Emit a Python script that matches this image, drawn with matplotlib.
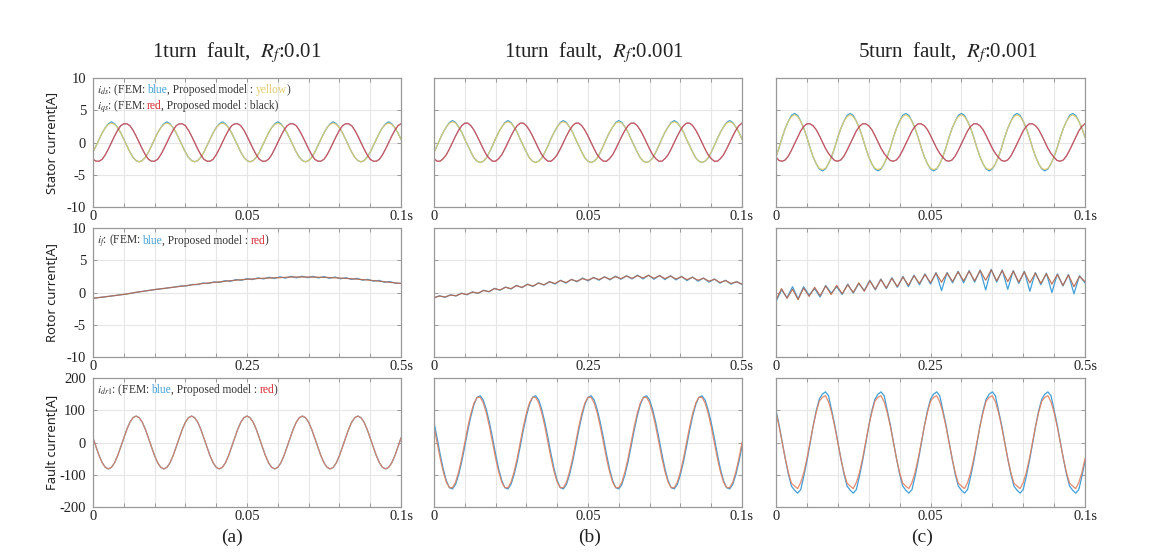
import numpy as np
import matplotlib.pyplot as plt
from matplotlib.offsetbox import TextArea, HPacker, VPacker, AnchoredOffsetbox

plt.rcParams['mathtext.fontset'] = 'stix'

# ---- data ----
t_fast = np.linspace(0, 0.1, 101)   # stator / fault current time base
t_rot = np.linspace(0, 0.5, 57)     # rotor current time base

titles = ["1turn  fault,  $R_f$:0.01", "1turn  fault,  $R_f$:0.001", "5turn  fault,  $R_f$:0.001"]
panel_tags = ["(a)", "(b)", "(c)"]

# stator i_ds, i_qs
ids_fem_a = [
    -1.5, -0.5, 0.5, 1.5, 2.3, 2.9, 3.2, 2.9, 2.3, 1.5, 0.5, -0.5, -1.5, -2.3, -2.8, -3.0, -2.8, -2.3,
    -1.5, -0.5, 0.5, 1.5, 2.3, 2.9, 3.2, 2.9, 2.3, 1.5, 0.5, -0.5, -1.5, -2.3, -2.8, -3.0, -2.8, -2.3,
    -1.5, -0.5, 0.5, 1.5, 2.3, 2.9, 3.2, 2.9, 2.3, 1.5, 0.5, -0.5, -1.5, -2.3, -2.8, -3.0, -2.8, -2.3,
    -1.5, -0.5, 0.5, 1.5, 2.3, 2.9, 3.2, 2.9, 2.3, 1.5, 0.5, -0.5, -1.5, -2.3, -2.8, -3.0, -2.8, -2.3,
    -1.5, -0.5, 0.5, 1.5, 2.3, 2.9, 3.2, 2.9, 2.3, 1.5, 0.5, -0.5, -1.5, -2.3, -2.8, -3.0, -2.8, -2.3,
    -1.5, -0.5, 0.5, 1.5, 2.3, 2.9, 3.2, 2.9, 2.3, 1.5, 0.5,
]
ids_mod_a = [
    -1.5, -0.5, 0.5, 1.5, 2.3, 2.8, 3.0, 2.8, 2.3, 1.5, 0.5, -0.5, -1.5, -2.3, -2.8, -3.0, -2.8, -2.3,
    -1.5, -0.5, 0.5, 1.5, 2.3, 2.8, 3.0, 2.8, 2.3, 1.5, 0.5, -0.5, -1.5, -2.3, -2.8, -3.0, -2.8, -2.3,
    -1.5, -0.5, 0.5, 1.5, 2.3, 2.8, 3.0, 2.8, 2.3, 1.5, 0.5, -0.5, -1.5, -2.3, -2.8, -3.0, -2.8, -2.3,
    -1.5, -0.5, 0.5, 1.5, 2.3, 2.8, 3.0, 2.8, 2.3, 1.5, 0.5, -0.5, -1.5, -2.3, -2.8, -3.0, -2.8, -2.3,
    -1.5, -0.5, 0.5, 1.5, 2.3, 2.8, 3.0, 2.8, 2.3, 1.5, 0.5, -0.5, -1.5, -2.3, -2.8, -3.0, -2.8, -2.3,
    -1.5, -0.5, 0.5, 1.5, 2.3, 2.8, 3.0, 2.8, 2.3, 1.5, 0.5,
]
iqs_a = [
    -2.6, -2.9, -2.9, -2.6, -1.9, -1.0, 0.0, 1.0, 1.9, 2.6, 2.9, 2.9, 2.6, 1.9, 1.0, 0.0, -1.0, -1.9,
    -2.6, -2.9, -2.9, -2.6, -1.9, -1.0, 0.0, 1.0, 1.9, 2.6, 2.9, 2.9, 2.6, 1.9, 1.0, 0.0, -1.0, -1.9,
    -2.6, -2.9, -2.9, -2.6, -1.9, -1.0, 0.0, 1.0, 1.9, 2.6, 2.9, 2.9, 2.6, 1.9, 1.0, 0.0, -1.0, -1.9,
    -2.6, -2.9, -2.9, -2.6, -1.9, -1.0, 0.0, 1.0, 1.9, 2.6, 2.9, 2.9, 2.6, 1.9, 1.0, 0.0, -1.0, -1.9,
    -2.6, -2.9, -2.9, -2.6, -1.9, -1.0, 0.0, 1.0, 1.9, 2.6, 2.9, 2.9, 2.6, 1.9, 1.0, 0.0, -1.0, -1.9,
    -2.6, -2.9, -2.9, -2.6, -1.9, -1.0, 0.0, 1.0, 1.9, 2.6, 2.9,
]
ids_fem_b = [
    -1.5, -0.5, 0.6, 1.6, 2.4, 3.1, 3.4, 3.1, 2.4, 1.6, 0.5, -0.5, -1.5, -2.4, -2.9, -3.1, -2.9, -2.4,
    -1.5, -0.5, 0.6, 1.6, 2.4, 3.1, 3.4, 3.1, 2.4, 1.6, 0.5, -0.5, -1.5, -2.4, -2.9, -3.1, -2.9, -2.4,
    -1.5, -0.5, 0.6, 1.6, 2.4, 3.1, 3.4, 3.1, 2.4, 1.6, 0.5, -0.5, -1.5, -2.4, -2.9, -3.1, -2.9, -2.4,
    -1.5, -0.5, 0.6, 1.6, 2.4, 3.1, 3.4, 3.1, 2.4, 1.6, 0.5, -0.5, -1.5, -2.4, -2.9, -3.1, -2.9, -2.4,
    -1.5, -0.5, 0.6, 1.6, 2.4, 3.1, 3.4, 3.1, 2.4, 1.6, 0.5, -0.5, -1.5, -2.4, -2.9, -3.1, -2.9, -2.4,
    -1.5, -0.5, 0.6, 1.6, 2.4, 3.1, 3.4, 3.1, 2.4, 1.6, 0.5,
]
ids_mod_b = [
    -1.5, -0.5, 0.6, 1.6, 2.4, 3.0, 3.2, 3.0, 2.4, 1.6, 0.5, -0.5, -1.5, -2.4, -2.9, -3.1, -2.9, -2.4,
    -1.5, -0.5, 0.6, 1.6, 2.4, 3.0, 3.2, 3.0, 2.4, 1.6, 0.5, -0.5, -1.5, -2.4, -2.9, -3.1, -2.9, -2.4,
    -1.5, -0.5, 0.6, 1.6, 2.4, 3.0, 3.2, 3.0, 2.4, 1.6, 0.5, -0.5, -1.5, -2.4, -2.9, -3.1, -2.9, -2.4,
    -1.5, -0.5, 0.6, 1.6, 2.4, 3.0, 3.2, 3.0, 2.4, 1.6, 0.5, -0.5, -1.5, -2.4, -2.9, -3.1, -2.9, -2.4,
    -1.5, -0.5, 0.6, 1.6, 2.4, 3.0, 3.2, 3.0, 2.4, 1.6, 0.5, -0.5, -1.5, -2.4, -2.9, -3.1, -2.9, -2.4,
    -1.5, -0.5, 0.6, 1.6, 2.4, 3.0, 3.2, 3.0, 2.4, 1.6, 0.5,
]
iqs_b = [
    -2.5, -2.9, -2.9, -2.5, -1.9, -1.0, 0.0, 1.0, 1.9, 2.6, 3.0, 3.0, 2.6, 1.9, 1.0, 0.0, -1.0, -1.9,
    -2.5, -2.9, -2.9, -2.5, -1.9, -1.0, 0.0, 1.0, 1.9, 2.6, 3.0, 3.0, 2.6, 1.9, 1.0, 0.0, -1.0, -1.9,
    -2.5, -2.9, -2.9, -2.5, -1.9, -1.0, 0.0, 1.0, 1.9, 2.6, 3.0, 3.0, 2.6, 1.9, 1.0, 0.0, -1.0, -1.9,
    -2.5, -2.9, -2.9, -2.5, -1.9, -1.0, 0.0, 1.0, 1.9, 2.6, 3.0, 3.0, 2.6, 1.9, 1.0, 0.0, -1.0, -1.9,
    -2.5, -2.9, -2.9, -2.5, -1.9, -1.0, 0.0, 1.0, 1.9, 2.6, 3.0, 3.0, 2.6, 1.9, 1.0, 0.0, -1.0, -1.9,
    -2.5, -2.9, -2.9, -2.5, -1.9, -1.0, 0.0, 1.0, 1.9, 2.6, 3.0,
]
ids_fem_c = [
    -2.2, -0.8, 0.8, 2.2, 3.3, 4.2, 4.5, 4.2, 3.3, 2.2, 0.8, -0.8, -2.2, -3.3, -4.1, -4.4, -4.1, -3.3,
    -2.2, -0.8, 0.8, 2.2, 3.3, 4.2, 4.5, 4.2, 3.3, 2.2, 0.8, -0.8, -2.2, -3.3, -4.1, -4.4, -4.1, -3.3,
    -2.2, -0.8, 0.8, 2.2, 3.3, 4.2, 4.5, 4.2, 3.3, 2.2, 0.8, -0.8, -2.2, -3.3, -4.1, -4.4, -4.1, -3.3,
    -2.2, -0.8, 0.8, 2.2, 3.3, 4.2, 4.5, 4.2, 3.3, 2.2, 0.8, -0.8, -2.2, -3.3, -4.1, -4.4, -4.1, -3.3,
    -2.2, -0.8, 0.8, 2.2, 3.3, 4.2, 4.5, 4.2, 3.3, 2.2, 0.8, -0.8, -2.2, -3.3, -4.1, -4.4, -4.1, -3.3,
    -2.2, -0.8, 0.8, 2.2, 3.3, 4.2, 4.5, 4.2, 3.3, 2.2, 0.8,
]
ids_mod_c = [
    -2.2, -0.8, 0.8, 2.2, 3.3, 4.0, 4.3, 4.0, 3.3, 2.2, 0.8, -0.8, -2.2, -3.3, -4.0, -4.2, -4.0, -3.3,
    -2.2, -0.8, 0.8, 2.2, 3.3, 4.0, 4.3, 4.0, 3.3, 2.2, 0.8, -0.8, -2.2, -3.3, -4.0, -4.2, -4.0, -3.3,
    -2.2, -0.8, 0.8, 2.2, 3.3, 4.0, 4.3, 4.0, 3.3, 2.2, 0.8, -0.8, -2.2, -3.3, -4.0, -4.2, -4.0, -3.3,
    -2.2, -0.8, 0.8, 2.2, 3.3, 4.0, 4.3, 4.0, 3.3, 2.2, 0.8, -0.8, -2.2, -3.3, -4.0, -4.2, -4.0, -3.3,
    -2.2, -0.8, 0.8, 2.2, 3.3, 4.0, 4.3, 4.0, 3.3, 2.2, 0.8, -0.8, -2.2, -3.3, -4.0, -4.2, -4.0, -3.3,
    -2.2, -0.8, 0.8, 2.2, 3.3, 4.0, 4.3, 4.0, 3.3, 2.2, 0.8,
]
iqs_c = [
    -2.3, -2.8, -2.9, -2.7, -2.1, -1.2, -0.2, 0.8, 1.8, 2.5, 2.9, 2.9, 2.6, 2.0, 1.1, 0.1, -0.9, -1.7,
    -2.3, -2.8, -2.9, -2.7, -2.1, -1.2, -0.2, 0.8, 1.8, 2.5, 2.9, 2.9, 2.6, 2.0, 1.1, 0.1, -0.9, -1.7,
    -2.3, -2.8, -2.9, -2.7, -2.1, -1.2, -0.2, 0.8, 1.8, 2.5, 2.9, 2.9, 2.6, 2.0, 1.1, 0.1, -0.9, -1.7,
    -2.3, -2.8, -2.9, -2.7, -2.1, -1.2, -0.2, 0.8, 1.8, 2.5, 2.9, 2.9, 2.6, 2.0, 1.1, 0.1, -0.9, -1.7,
    -2.3, -2.8, -2.9, -2.7, -2.1, -1.2, -0.2, 0.8, 1.8, 2.5, 2.9, 2.9, 2.6, 2.0, 1.1, 0.1, -0.9, -1.7,
    -2.3, -2.8, -2.9, -2.7, -2.1, -1.2, -0.2, 0.8, 1.8, 2.5, 2.9,
]

# rotor i_f
rot_fem_a = [
    -0.90, -0.79, -0.69, -0.58, -0.47, -0.36, -0.25, -0.10, 0.05, 0.17,
    0.30, 0.43, 0.54, 0.64, 0.75, 0.86, 1.02, 1.01, 1.25, 1.22,
    1.47, 1.40, 1.65, 1.56, 1.84, 1.72, 2.02, 1.88, 2.16, 2.00,
    2.27, 2.10, 2.36, 2.16, 2.43, 2.23, 2.51, 2.28, 2.52, 2.29,
    2.50, 2.26, 2.47, 2.20, 2.40, 2.13, 2.30, 2.02, 2.20, 1.90,
    2.04, 1.75, 1.88, 1.58, 1.70, 1.42, 1.43,
]
rot_mod_a = [
    -0.90, -0.79, -0.69, -0.58, -0.47, -0.36, -0.25, -0.10, 0.05, 0.17,
    0.30, 0.43, 0.54, 0.64, 0.75, 0.86, 0.96, 1.07, 1.18, 1.29,
    1.39, 1.48, 1.56, 1.65, 1.74, 1.83, 1.91, 1.98, 2.05, 2.10,
    2.16, 2.21, 2.24, 2.28, 2.31, 2.35, 2.39, 2.40, 2.40, 2.40,
    2.39, 2.37, 2.35, 2.31, 2.28, 2.24, 2.18, 2.13, 2.07, 2.00,
    1.93, 1.85, 1.76, 1.67, 1.58, 1.49, 1.40,
]
rot_fem_b = [
    -0.85, -0.50, -0.75, -0.35, -0.55, -0.10, -0.35, 0.10, -0.15, 0.35,
    0.10, 0.65, 0.35, 0.85, 0.55, 1.10, 0.75, 1.30, 0.95, 1.50,
    1.15, 1.70, 1.30, 1.90, 1.45, 2.05, 1.65, 2.25, 1.80, 2.35,
    1.90, 2.45, 1.95, 2.55, 2.05, 2.60, 2.10, 2.70, 2.10, 2.70,
    2.05, 2.65, 2.00, 2.60, 1.95, 2.50, 1.85, 2.40, 1.75, 2.25,
    1.60, 2.10, 1.45, 1.90, 1.30, 1.70, 1.25,
]
rot_mod_b = [
    -0.80, -0.55, -0.70, -0.40, -0.50, -0.15, -0.30, 0.05, -0.10, 0.30,
    0.15, 0.60, 0.40, 0.80, 0.60, 1.05, 0.80, 1.25, 1.00, 1.45,
    1.20, 1.65, 1.40, 1.85, 1.55, 2.00, 1.75, 2.15, 1.90, 2.30,
    2.00, 2.40, 2.05, 2.45, 2.15, 2.55, 2.20, 2.60, 2.25, 2.65,
    2.20, 2.60, 2.15, 2.55, 2.10, 2.45, 2.00, 2.35, 1.90, 2.20,
    1.75, 2.05, 1.55, 1.85, 1.40, 1.65, 1.30,
]
rot_fem_c = [
    -1.4, 0.4, -0.8, 0.9, -1.0, 0.9, -0.4, 0.6, -0.7, 1.1,
    -0.1, 0.9, -0.3, 1.3, -0.1, 1.4, 0.3, 1.9, 0.4, 2.1,
    0.6, 2.3, 0.8, 2.5, 0.9, 2.7, 1.2, 2.9, 1.3, 3.1,
    0.3, 3.1, 1.5, 3.3, 1.5, 3.4, 1.6, 3.5, 0.4, 3.6,
    1.6, 3.5, 0.5, 3.4, 1.4, 3.3, 0.2, 3.1, 1.2, 3.0,
    0.0, 2.9, 1.0, 2.8, -0.2, 2.6, 1.5,
]
rot_mod_c = [
    -1.2, 0.6, -0.9, 0.5, -1.1, 0.7, -0.6, 0.8, -0.5, 1.0,
    -0.3, 1.1, -0.2, 1.2, 0.0, 1.5, 0.2, 1.8, 0.5, 2.0,
    0.7, 2.2, 0.9, 2.4, 1.1, 2.6, 1.4, 2.8, 1.5, 3.0,
    1.6, 3.0, 1.7, 3.2, 1.8, 3.3, 1.8, 3.4, 1.9, 3.5,
    1.8, 3.4, 1.7, 3.3, 1.6, 3.2, 1.5, 3.0, 1.4, 2.9,
    1.3, 2.8, 1.1, 2.7, 0.9, 2.5, 1.7,
]

# fault i_dr1
flt_a = [
    14, -14, -41, -63, -77, -82, -77, -63, -41, -14, 14, 41, 63, 77, 82, 77, 63, 41,
    14, -14, -41, -63, -77, -82, -77, -63, -41, -14, 14, 41, 63, 77, 82, 77, 63, 41,
    14, -14, -41, -63, -77, -82, -77, -63, -41, -14, 14, 41, 63, 77, 82, 77, 63, 41,
    14, -14, -41, -63, -77, -82, -77, -63, -41, -14, 14, 41, 63, 77, 82, 77, 63, 41,
    14, -14, -41, -63, -77, -82, -77, -63, -41, -14, 14, 41, 63, 77, 82, 77, 63, 41,
    14, -14, -41, -63, -77, -82, -77, -63, -41, -14, 14,
]
flt_fem_b = [
    62, 15, -36, -82, -118, -140, -144, -130, -100, -60, -12, 38, 82, 118, 140, 145, 132, 102,
    62, 15, -36, -82, -118, -140, -144, -130, -100, -60, -12, 38, 82, 118, 140, 145, 132, 102,
    62, 15, -36, -82, -118, -140, -144, -130, -100, -60, -12, 38, 82, 118, 140, 145, 132, 102,
    62, 15, -36, -82, -118, -140, -144, -130, -100, -60, -12, 38, 82, 118, 140, 145, 132, 102,
    62, 15, -36, -82, -118, -140, -144, -130, -100, -60, -12, 38, 82, 118, 140, 145, 132, 102,
    62, 15, -36, -82, -118, -140, -144, -130, -100, -60, -12,
]
flt_mod_b = [
    49, 0, -49, -91, -123, -140, -140, -123, -91, -49, 0, 49, 91, 123, 140, 140, 123, 91,
    49, 0, -49, -91, -123, -140, -140, -123, -91, -49, 0, 49, 91, 123, 140, 140, 123, 91,
    49, 0, -49, -91, -123, -140, -140, -123, -91, -49, 0, 49, 91, 123, 140, 140, 123, 91,
    49, 0, -49, -91, -123, -140, -140, -123, -91, -49, 0, 49, 91, 123, 140, 140, 123, 91,
    49, 0, -49, -91, -123, -140, -140, -123, -91, -49, 0, 49, 91, 123, 140, 140, 123, 91,
    49, 0, -49, -91, -123, -140, -140, -123, -91, -49, 0,
]
flt_fem_c = [
    100, 55, 2, -50, -98, -135, -148, -157, -146, -105, -58, -5, 50, 98, 134, 150, 157, 145,
    100, 55, 2, -50, -98, -135, -148, -157, -146, -105, -58, -5, 50, 98, 134, 150, 157, 145,
    100, 55, 2, -50, -98, -135, -148, -157, -146, -105, -58, -5, 50, 98, 134, 150, 157, 145,
    100, 55, 2, -50, -98, -135, -148, -157, -146, -105, -58, -5, 50, 98, 134, 150, 157, 145,
    100, 55, 2, -50, -98, -135, -148, -157, -146, -105, -58, -5, 50, 98, 134, 150, 157, 145,
    100, 55, 2, -50, -98, -135, -148, -157, -146, -105, -58,
]
flt_mod_c = [
    93, 50, 0, -50, -93, -126, -135, -143, -124, -93, -50, 0, 50, 93, 128, 140, 145, 126,
    93, 50, 0, -50, -93, -126, -135, -143, -124, -93, -50, 0, 50, 93, 128, 140, 145, 126,
    93, 50, 0, -50, -93, -126, -135, -143, -124, -93, -50, 0, 50, 93, 128, 140, 145, 126,
    93, 50, 0, -50, -93, -126, -135, -143, -124, -93, -50, 0, 50, 93, 128, 140, 145, 126,
    93, 50, 0, -50, -93, -126, -135, -143, -124, -93, -50, 0, 50, 93, 128, 140, 145, 126,
    93, 50, 0, -50, -93, -126, -135, -143, -124, -93, -50,
]

stator = [(ids_fem_a, ids_mod_a, iqs_a), (ids_fem_b, ids_mod_b, iqs_b), (ids_fem_c, ids_mod_c, iqs_c)]
rotor = [(rot_fem_a, rot_mod_a), (rot_fem_b, rot_mod_b), (rot_fem_c, rot_mod_c)]
fault = [(flt_a, flt_a), (flt_fem_b, flt_mod_b), (flt_fem_c, flt_mod_c)]

# ---- style ----
BLUE = '#3f9fd9'
YEL = '#e2cc6c'
RED = '#cf4a5c'
ORG = '#e47f5e'
TXT = '#333333'
SERIF = 'Liberation Serif'

W, H = 1154, 556
col_x = [93, 434, 776]
col_w = [308, 308, 309]
row_y = [(78, 207), (228, 357), (378, 507)]


def make_ax(c, r):
    y0, y1 = row_y[r]
    ax = fig.add_axes([col_x[c] / W, 1 - y1 / H, col_w[c] / W, (y1 - y0) / H])
    for s in ax.spines.values():
        s.set_color('#999999')
        s.set_linewidth(0.9)
    ax.grid(True, color='#e6e6e6', lw=0.8)
    ax.set_axisbelow(True)
    ax.tick_params(direction='in', length=3, width=0.7, color='#999999', top=True, right=True,
                   labelsize=10.5, pad=2, labelcolor='#222222')
    ax.tick_params(axis='y', pad=5)
    return ax


def set_time_axis(ax, tmax, mid):
    ticks = np.linspace(0, tmax, 11)
    labels = [''] * 11
    labels[0] = '0'
    labels[5] = mid
    labels[10] = f'{tmax:g}s'
    ax.set_xlim(0, tmax)
    ax.set_xticks(ticks)
    ax.set_xticklabels(labels, family=SERIF)


def set_y(ax, lim, step, show):
    ticks = np.arange(-lim, lim + 1, step)
    ax.set_ylim(-lim, lim)
    ax.set_yticks(ticks)
    if show:
        ax.set_yticklabels([f'{v:g}' for v in ticks], family=SERIF)
    else:
        ax.set_yticklabels([])


def note(ax, lines):
    rows = []
    for parts in lines:
        areas = [TextArea(s, textprops=dict(color=col, fontsize=8.3, family=SERIF)) for s, col in parts]
        rows.append(HPacker(children=areas, align='baseline', pad=0, sep=0))
    box = VPacker(children=rows, align='left', pad=0, sep=0)
    ax.add_artist(AnchoredOffsetbox(loc='upper left', child=box, pad=0.1, borderpad=0.2, frameon=False))


def side_label(ax, text):
    ax.set_ylabel(text, family='Noto Sans', fontsize=9.3, color='#222222')
    ax.yaxis.set_label_coords(-0.112, 0.5)


fig = plt.figure(figsize=(W / 100, H / 100), dpi=100)

for c in range(3):
    # stator current
    ax = make_ax(c, 0)
    ids_fem, ids_mod, iqs = stator[c]
    ax.plot(t_fast, ids_fem, color=BLUE, lw=0.9)
    ax.plot(t_fast, ids_mod, color=YEL, lw=0.9, alpha=0.95)
    ax.plot(t_fast, iqs, color='black', lw=0.8, alpha=0.4)
    ax.plot(t_fast, iqs, color=RED, lw=0.9, alpha=0.85)
    set_time_axis(ax, 0.1, '0.05')
    set_y(ax, 10, 5, c == 0)
    if c == 0:
        side_label(ax, 'Stator current[A]')
        note(ax, [[('$i_{ds}$: (FEM: ', TXT), ('blue', BLUE), (', Proposed model : ', TXT), ('yellow', YEL), (')', TXT)],
                  [('$i_{qs}$: (FEM: ', TXT), ('red', '#d8262f'), (', Proposed model : black)', TXT)]])

    # rotor current
    ax = make_ax(c, 1)
    r_fem, r_mod = rotor[c]
    ax.plot(t_rot, r_fem, color=BLUE, lw=0.9)
    ax.plot(t_rot, r_mod, color=ORG, lw=0.9, alpha=0.9)
    ax.plot(t_rot, r_mod, color='#333333', lw=0.5, alpha=0.35)
    set_time_axis(ax, 0.5, '0.25')
    set_y(ax, 10, 5, c == 0)
    if c == 0:
        side_label(ax, 'Rotor current[A]')
        note(ax, [[('$i_f$: (FEM: ', TXT), ('blue', BLUE), (', Proposed model : ', TXT), ('red', '#d8262f'), (')', TXT)]])

    # fault current
    ax = make_ax(c, 2)
    f_fem, f_mod = fault[c]
    ax.plot(t_fast, f_fem, color=BLUE, lw=0.9)
    ax.plot(t_fast, f_mod, color=ORG, lw=0.9, alpha=0.9)
    set_time_axis(ax, 0.1, '0.05')
    set_y(ax, 200, 100, c == 0)
    if c == 0:
        side_label(ax, 'Fault current[A]')
        note(ax, [[('$i_{dr1}$: (FEM: ', TXT), ('blue', BLUE), (', Proposed model : ', TXT), ('red', '#d8262f'), (')', TXT)]])

title_x = [237, 594, 948]
tag_x = [232, 590, 922]
for c in range(3):
    fig.text(title_x[c] / W, 1 - 53 / H, titles[c], ha='center', va='center', family=SERIF, fontsize=15, color='#222222')
    fig.text(tag_x[c] / W, 1 - 537 / H, panel_tags[c], ha='center', va='center', family=SERIF, fontsize=14, color='#222222')

fig.savefig('out.png', dpi=100)
